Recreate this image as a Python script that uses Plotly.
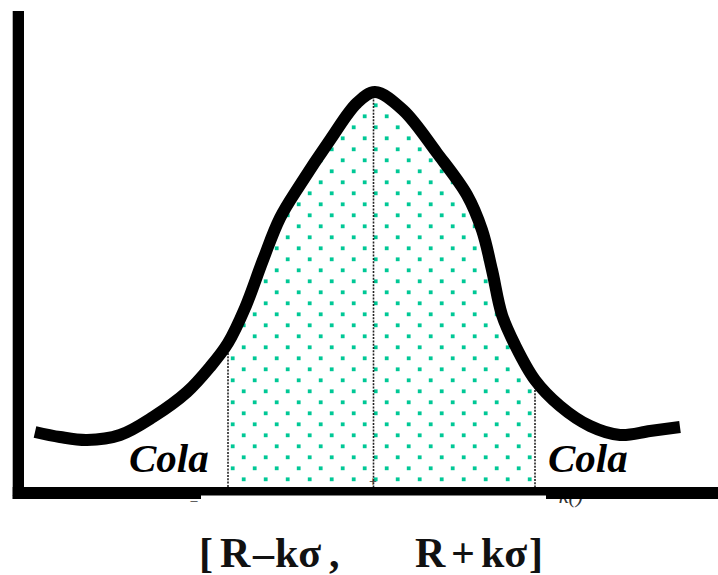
import numpy as np
import plotly.graph_objects as go

# Curve sketch (x position, vertical position measured downward from top of canvas)
curve_x = [35, 60, 87, 120, 153, 187, 210, 228, 245, 263, 280, 300, 330, 357, 375,
           403, 437, 467, 482, 492, 502, 515, 535, 560, 590, 620, 650, 680]
curve_y = [432, 437, 440, 435, 417, 392, 367, 343, 308, 260, 218, 185, 140, 103, 92,
           110, 153, 195, 230, 270, 315, 345, 380, 406, 426, 435, 431, 427]

interval_lo = 228
interval_mid = 373.5
interval_hi = 535
baseline = 487

side_label = "Cola"
bracket_parts = ["[", "R", "–", "kσ", ",", "R", "+", "kσ", "]"]
bracket_pos = [206, 235, 263, 298, 334, 430, 463, 504, 536]

teal = "rgb(0,200,150)"

fig = go.Figure()

# dotted texture under the curve inside the interval (diamond lattice)
cx = np.array(curve_x, float)
cy = np.array(curve_y, float)
dx, dy = [], []
for i in range(-14, 16):
    x = interval_mid + 2.2 + 11 * i
    if x < interval_lo + 2 or x > interval_hi - 2:
        continue
    top = np.interp(x, cx, cy)
    for j in range(0, 40):
        if (i + j) % 2:
            continue
        y = 105.3 + 11 * j
        if y > top - 2 and y < baseline - 4:
            dx.append(x)
            dy.append(y)
fig.add_trace(go.Scatter(x=dx, y=dy, mode="markers",
                         marker=dict(symbol="square", size=3.8, color=teal, line=dict(width=0)),
                         hoverinfo="skip", showlegend=False))

# dotted vertical guides
for xv in [interval_lo, interval_mid, interval_hi]:
    top = float(np.interp(xv, cx, cy))
    fig.add_trace(go.Scatter(x=[xv, xv], y=[top, baseline], mode="lines",
                             line=dict(color="#222222", width=1.6, dash="2px,1.3px"),
                             hoverinfo="skip", showlegend=False))

# small stray marks
fig.add_trace(go.Scatter(x=[194, 373, 571], y=[501, 482, 497], mode="text",
                         text=["–", "+", "<i>k()</i>"],
                         textfont=dict(family="Liberation Serif", size=[14, 14, 22], color="#333333"),
                         hoverinfo="skip", showlegend=False))

# the curve
fig.add_trace(go.Scatter(x=curve_x, y=curve_y, mode="lines",
                         line=dict(color="black", width=12, shape="spline", smoothing=1.0),
                         hoverinfo="skip", showlegend=False))

# axes as thick bars
shapes = [
    dict(type="rect", x0=12.7, x1=24, y0=11, y1=499),
    dict(type="rect", x0=12.7, x1=718, y0=487, y1=495.5),
    dict(type="rect", x0=12.7, x1=201, y0=495, y1=499),
    dict(type="rect", x0=546, x1=718, y0=495, y1=499),
]
for s in shapes:
    s.update(xref="x", yref="y", fillcolor="black", line=dict(width=0), layer="above")
fig.update_layout(shapes=shapes)

annotations = []
for xc in [168.5, 587.5]:
    annotations.append(dict(x=xc, y=458, xref="x", yref="y", text="<b><i>" + side_label + "</i></b>",
                            showarrow=False, xanchor="center", yanchor="middle",
                            font=dict(family="Liberation Serif", size=41, color="black")))
for t, xc in zip(bracket_parts, bracket_pos):
    annotations.append(dict(x=xc, y=553, xref="x", yref="y", text="<b>" + t + "</b>",
                            showarrow=False, xanchor="center", yanchor="middle",
                            font=dict(family="Liberation Serif", size=42, color="#111111")))
fig.update_layout(annotations=annotations)

fig.update_layout(
    width=718, height=575,
    margin=dict(l=0, r=0, t=0, b=0),
    paper_bgcolor="white", plot_bgcolor="white",
    xaxis=dict(range=[0, 718], visible=False, fixedrange=True),
    yaxis=dict(range=[575, 0], visible=False, fixedrange=True),
    showlegend=False,
)

fig.write_html("out.html",
               config={"displayModeBar": False},
               post_script="document.body.style.margin='0';document.body.style.overflow='hidden';")
